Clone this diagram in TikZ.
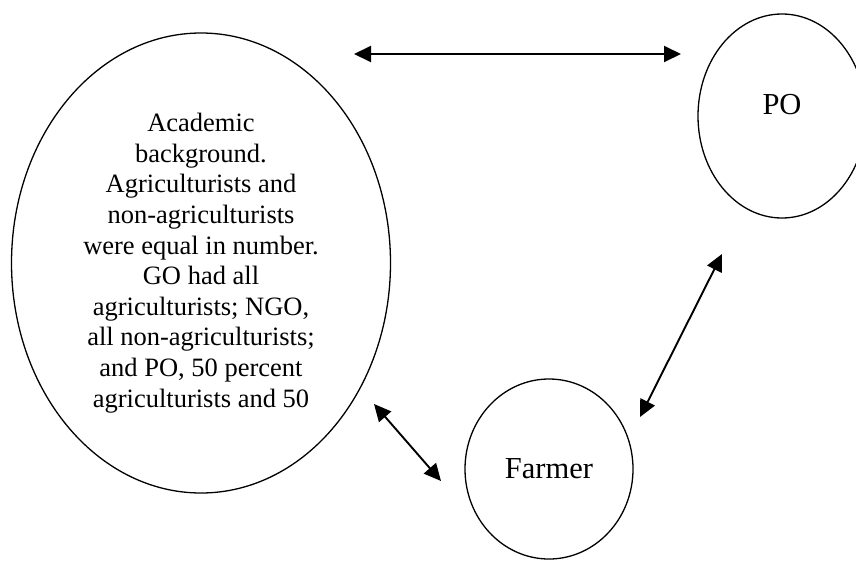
\documentclass[tikz,border=0pt]{standalone}
\usepackage{fontspec}
\setmainfont{Liberation Serif}
\usetikzlibrary{arrows.meta, shapes.geometric}

\begin{document}
\begin{tikzpicture}[x=1pt, y=-1pt,
  blob/.style={ellipse, draw, line width=1.3pt, inner sep=0pt},
  link/.style={{Triangle[length=17pt, width=16pt]}-{Triangle[length=17pt, width=16pt]}, line width=1.9pt},
  bodytext/.style={font=\fontsize{26.5}{30.6}\selectfont, align=center},
  nametext/.style={font=\fontsize{30.5}{35}\selectfont}]

\useasboundingbox (0,0) rectangle (856,560);
\clip (0,0) rectangle (856,560);

% === Elipses ===
\node[blob, minimum width=379pt, minimum height=460pt, bodytext] (acad) at (201,263) {
    Academic\\
    background.\\
    Agriculturists and\\
    non-agriculturists\\
    were equal in number.\\
    GO had all\\
    agriculturists; NGO,\\
    all non-agriculturists;\\
    and PO, 50 percent\\
    agriculturists and 50
};
\node[blob, minimum width=168pt, minimum height=204pt] (po) at (782,116) {};
\node[nametext] (potext) at ([yshift=11pt]po.center) {PO};
\node[blob, minimum width=168pt, minimum height=180pt, nametext] (farmer) at (549,469) {Farmer};

% === Extremos de las flechas ===
\coordinate (acad end) at (354,54);
\coordinate (po end) at (681,54);
\coordinate (po low) at (722,254);
\coordinate (farmer up) at (640,417);
\coordinate (acad low) at (374,404);
\coordinate (farmer left) at (441,481);

% === Flechas ===
\draw[link] (acad end) -- (po end);
\draw[link] (po low) -- (farmer up);
\draw[link] (acad low) -- (farmer left);

\end{tikzpicture}
\end{document}
